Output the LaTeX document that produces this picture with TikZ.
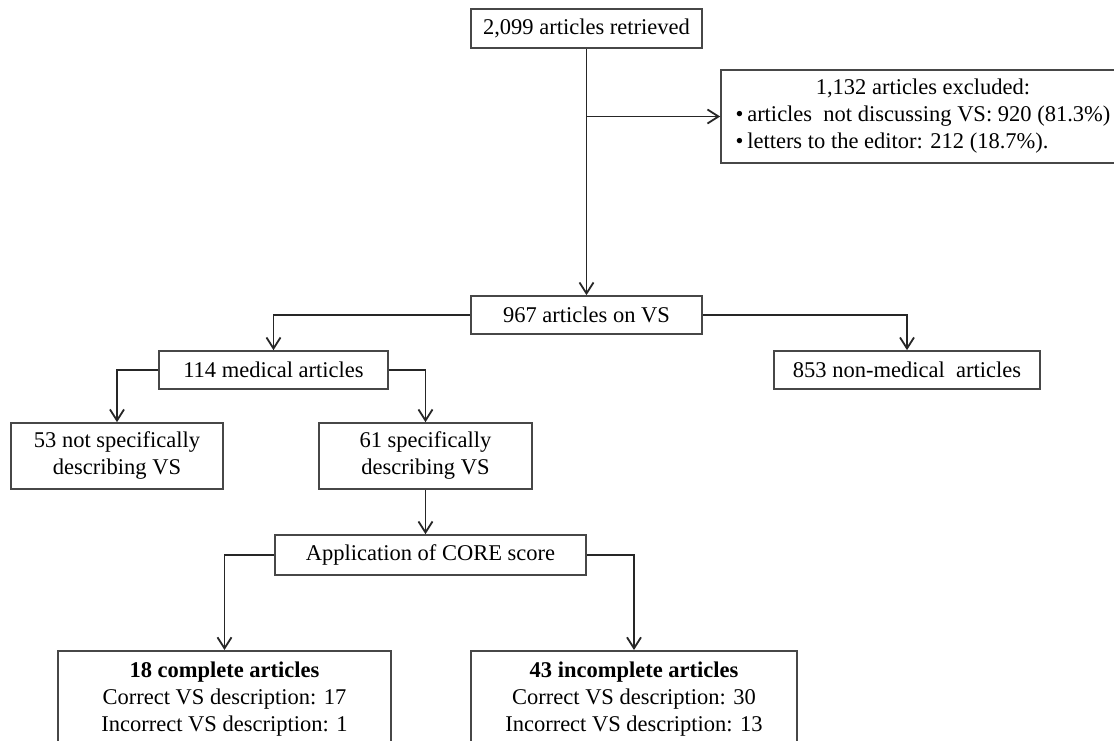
\documentclass[tikz,border=0pt]{standalone}
\usepackage{fontspec}
\setmainfont{Liberation Serif}
\usetikzlibrary{arrows.meta}
\begin{document}
\begin{tikzpicture}[x=1pt,y=-1pt,
  box/.style={draw=black!72, line width=1.7pt, fill=white, inner sep=0pt, align=center,
    font=\fontsize{22.5}{27}\selectfont},
  conn/.style={draw=black!85, line width=1.8pt},
  arr/.style={conn, -{Straight Barb[length=11pt,width=14pt,line width=1.8pt]}}]
\clip (0,0) rectangle (1114,741);
\fill[white] (0,0) rectangle (1114,741);
\node[box, minimum width=231pt, minimum height=39pt] (retr) at (586.5,28.5) {2,099 articles retrieved};
\node[box, minimum width=404pt, minimum height=93pt] (excl) at (923,116.5)
  {\begin{tabular}{@{}l@{}}\multicolumn{1}{@{}c@{}}{1,132 articles excluded:}\\
   •\,articles\ \ not discussing VS: 920 (81.3\%)\\
   •\,letters to the editor: 212 (18.7\%).\end{tabular}};
\node[box, minimum width=231pt, minimum height=38pt] (vs) at (586.5,315) {967 articles on VS};
\node[box, minimum width=229pt, minimum height=38pt] (med) at (273.5,370) {114 medical articles};
\node[box, minimum width=266pt, minimum height=38pt] (nonmed) at (907,370) {853 non-medical\ \ articles};
\node[box, minimum width=212pt, minimum height=66pt] (notspec) at (117,456) {53 not specifically\\describing VS};
\node[box, minimum width=213pt, minimum height=66pt] (spec) at (425.5,456) {61 specifically\\describing VS};
\node[box, minimum width=311pt, minimum height=40pt] (core) at (430.5,555) {Application of CORE score};
\node[box, minimum width=333pt, inner ysep=11pt, anchor=north] (compl) at (224.5,650)
  {\textbf{18 complete articles}\\Correct VS description: 17\\Incorrect VS description: 1\rule[-20pt]{0pt}{20pt}};
\node[box, minimum width=326pt, inner ysep=11pt, anchor=north] (incompl) at (634,650)
  {\textbf{43 incomplete articles}\\Correct VS description: 30\\Incorrect VS description: 13\rule[-20pt]{0pt}{20pt}};
\coordinate (br) at (retr.south |- excl.west);
\draw[arr] (retr.south) -- (vs.north);
\draw[arr] (br) -- (excl.west);
\draw[arr] (vs.west) -| (med.north);
\draw[arr] (vs.east) -| (nonmed.north);
\draw[arr] (med.west) -| (notspec.north);
\draw[arr] (med.east) -| (spec.north);
\draw[arr] (spec.south) -- (spec.south |- core.north);
\draw[arr] (core.west) -| (compl.north);
\draw[arr] (core.east) -| (incompl.north);
\end{tikzpicture}
\end{document}
